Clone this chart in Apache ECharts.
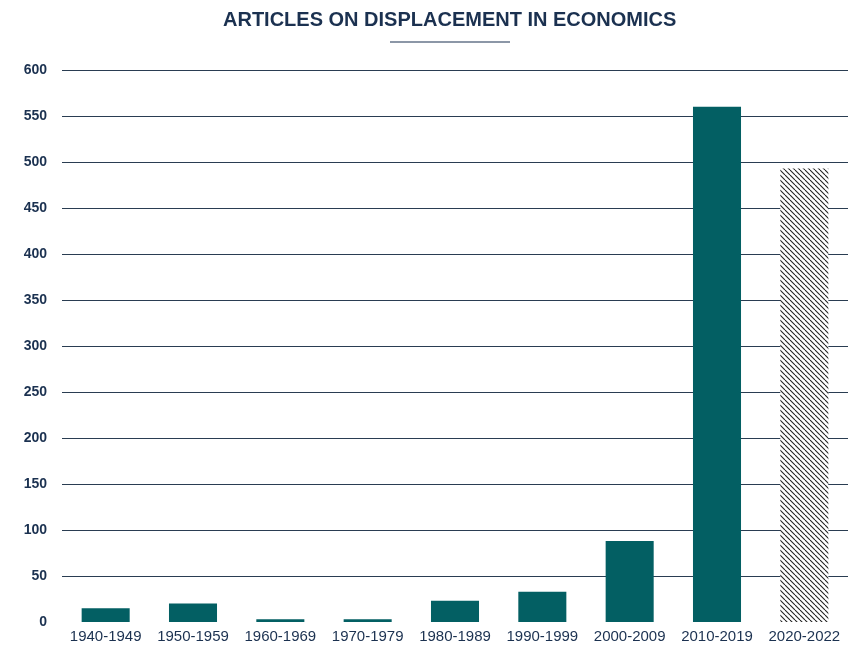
<!DOCTYPE html>
<html><head><meta charset="utf-8">
<script src="https://cdn.jsdelivr.net/npm/echarts@6/dist/echarts.min.js"></script>
<style>html,body{margin:0;padding:0;background:#fff}#c{width:854px;height:645px}</style>
</head><body><div id="c"></div>
<script>
var categories = ['1940-1949','1950-1959','1960-1969','1970-1979','1980-1989','1990-1999','2000-2009','2010-2019','2020-2022'];
var articles = [15, 20, 3, 3, 23, 33, 88, 560, 493];
var hatchedIndex = 8;
var yTicks = {min: 0, max: 600, interval: 50};

var pc = document.createElement('canvas');
pc.width = 5; pc.height = 5;
var g = pc.getContext('2d');
g.fillStyle = '#ffffff'; g.fillRect(0,0,5,5);
g.strokeStyle = '#222'; g.lineWidth = 1.1;
[-5,0,5].forEach(function(k){ g.beginPath(); g.moveTo(k,0); g.lineTo(k+5,5); g.stroke(); });

var navy = '#1b3150';
var chart = echarts.init(document.getElementById('c'));
chart.setOption({
  animation: false,
  title: {text: 'ARTICLES ON DISPLACEMENT IN ECONOMICS', left: 218, top: 5,
    textStyle: {fontFamily: 'Liberation Sans, Arial', fontWeight: 'bold', fontSize: 20, color: navy}},
  graphic: [{type: 'line', shape: {x1: 390, y1: 42, x2: 510, y2: 42}, style: {stroke: navy, lineWidth: 1.2}}],
  grid: {left: 62, right: 6, top: 70, bottom: 23},
  xAxis: {type: 'category', data: categories,
    axisLine: {show: false}, axisTick: {show: false},
    axisLabel: {color: navy, fontFamily: 'Liberation Sans, Arial', fontSize: 15, margin: 7, interval: 0}},
  yAxis: {type: 'value', min: yTicks.min, max: yTicks.max, interval: yTicks.interval,
    axisLine: {show: false}, axisTick: {show: false},
    axisLabel: {color: navy, fontWeight: 'bold', fontFamily: 'Liberation Sans, Arial', fontSize: 14, margin: 15},
    splitLine: {showMinLine: false, lineStyle: {color: '#2a3d52', width: 1}}},
  series: [{type: 'bar', barWidth: '55%',
    data: articles.map(function(v,i){
      return i === hatchedIndex ? {value: v, itemStyle: {color: {image: pc, repeat: 'repeat'}}} : {value: v, itemStyle: {color: '#035f63'}};
    })}]
});
</script></body></html>
